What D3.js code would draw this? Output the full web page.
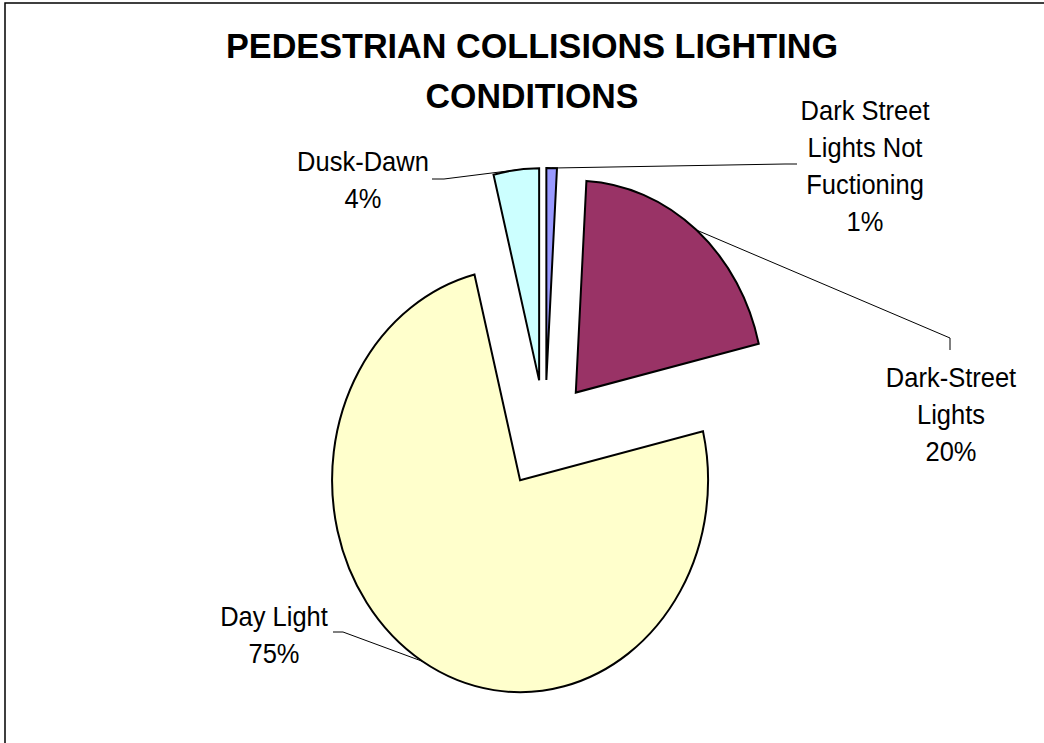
<!DOCTYPE html>
<html>
<head>
<meta charset="utf-8">
<script src="https://cdn.jsdelivr.net/npm/d3@7"></script>
<style>
  html, body { margin: 0; padding: 0; background: #fff; }
  svg { display: block; }
  text { font-family: "Liberation Sans", Arial, sans-serif; fill: #000; }
</style>
</head>
<body>
<svg id="chart" width="1044" height="743"></svg>
<script>
// ---- data ----
const categories = ["Dark Street Lights Not Fuctioning", "Dark-Street Lights", "Day Light", "Dusk-Dawn"];
const values = [0.9, 20.4, 74.8, 3.9];
const percentLabels = ["1%", "20%", "75%", "4%"];
const labelLines = [["Dark Street", "Lights Not", "Fuctioning"], ["Dark-Street", "Lights"], ["Day Light"], ["Dusk-Dawn"]];
const titleLines = ["PEDESTRIAN COLLISIONS LIGHTING", "CONDITIONS"];

// ---- style / layout ----
const colors = ["#9999FF", "#993366", "#FFFFCC", "#CCFFFF"];
const W = 1044, H = 743;
const cx = 545, cy = 434, rx = 188, ry = 212, explode = 0.255;
const labelPos = [{x: 865, y: 120}, {x: 951, y: 387}, {x: 274, y: 626}, {x: 363, y: 171}];
const lineH = 37;
const textStretch = 1.1;
const leaderStart = [[797, 164, 785, 164], [950, 350, 950, 338], [333, 632, 343, 632], [432, 179, 444, 179]];

const svg = d3.select("#chart");

// frame
svg.append("rect")
  .attr("x", 5).attr("y", 3).attr("width", W + 50).attr("height", H + 50)
  .attr("fill", "none").attr("stroke", "#000").attr("stroke-width", 1.5);

// title
titleLines.forEach((t, i) => {
  svg.append("text")
    .attr("transform", `translate(532,${58 + i * 50}) scale(1,1.05)`)
    .attr("text-anchor", "middle")
    .attr("font-size", 34).attr("font-weight", "bold")
    .attr("textLength", i === 0 ? 612 : 213)
    .attr("lengthAdjust", "spacingAndGlyphs")
    .text(t);
});

const pie = d3.pie().sort(null).value(d => d);
const arcs = pie(values);
const arcGen = d3.arc().innerRadius(0).outerRadius(rx);

function vertex(a) {
  const m = (a.startAngle + a.endAngle) / 2;
  return [cx + explode * rx * Math.sin(m), cy - explode * ry * Math.cos(m)];
}
function edgeMid(a) {
  const m = (a.startAngle + a.endAngle) / 2;
  const v = vertex(a);
  return [v[0] + rx * Math.sin(m), v[1] - ry * Math.cos(m)];
}

// leader lines (under slices)
arcs.forEach((a, i) => {
  const p = edgeMid(a);
  const s = leaderStart[i];
  svg.append("path")
    .attr("d", d3.line()([[s[0], s[1]], [s[2], s[3]], p]))
    .attr("fill", "none").attr("stroke", "#000").attr("stroke-width", 1);
});

// slices
arcs.forEach((a, i) => {
  const v = vertex(a);
  svg.append("g")
    .attr("transform", `translate(${v[0]},${v[1]}) scale(1,${ry / rx})`)
    .append("path")
    .attr("d", arcGen(a))
    .attr("fill", colors[i])
    .attr("stroke", "#000")
    .attr("stroke-width", 2)
    .attr("stroke-linejoin", "miter")
    .attr("vector-effect", "non-scaling-stroke");
});

// labels
arcs.forEach((a, i) => {
  const lines = labelLines[i].concat([percentLabels[i]]);
  const t = svg.append("text")
    .attr("transform", `translate(${labelPos[i].x},${labelPos[i].y}) scale(1,${textStretch})`)
    .attr("text-anchor", "middle")
    .attr("font-size", 25.5);
  lines.forEach((ln, j) => {
    t.append("tspan").attr("x", 0).attr("y", j * lineH / textStretch).text(ln);
  });
});
</script>
</body>
</html>
